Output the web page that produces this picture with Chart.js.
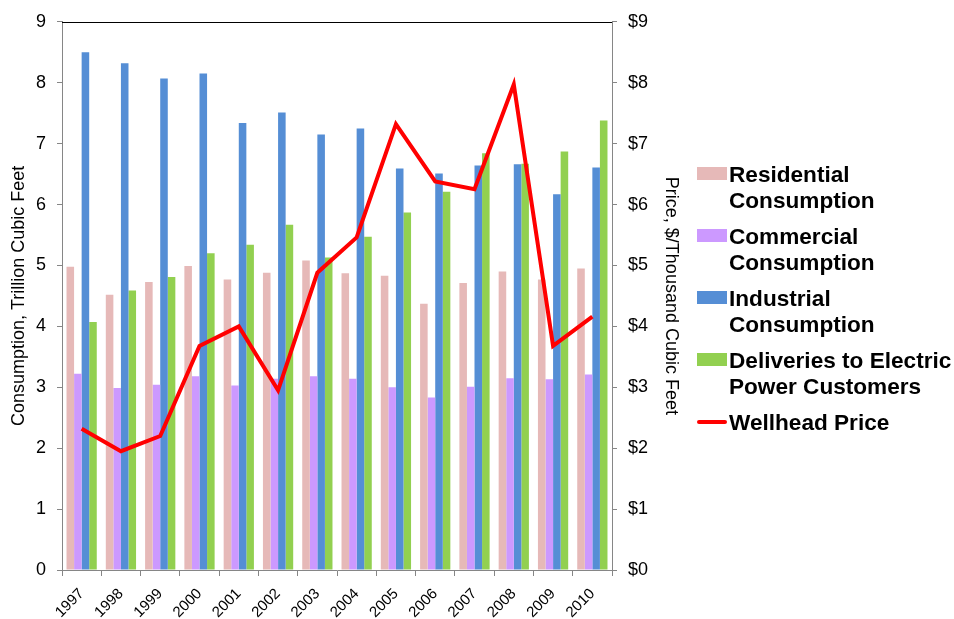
<!DOCTYPE html>
<html>
<head>
<meta charset="utf-8">
<script src="https://cdn.jsdelivr.net/npm/chart.js@4/dist/chart.umd.min.js"></script>
<style>
  html, body { margin: 0; padding: 0; background: #fff; }
  #wrap { position: relative; width: 954px; height: 619px; }
  canvas { position: absolute; left: 0; top: 0; }
  .lg { position: absolute; left: 697px; font-family: "Liberation Sans", Arial, sans-serif; font-weight: bold; font-size: 22.6px; color: #000; }
  .lg .sw { position: absolute; left: 0; width: 30px; }
  .lg .tx { position: absolute; left: 32px; white-space: nowrap; line-height: 26px; }
</style>
</head>
<body>
<div id="wrap">
  <canvas id="c" width="954" height="619"></canvas>
</div>
<script>
const years = ['1997','1998','1999','2000','2001','2002','2003','2004','2005','2006','2007','2008','2009','2010'];
const residential = [4.98, 4.52, 4.73, 4.99, 4.77, 4.88, 5.08, 4.87, 4.83, 4.37, 4.71, 4.90, 4.77, 4.95];
const commercial  = [3.22, 2.99, 3.04, 3.18, 3.03, 3.14, 3.18, 3.14, 3.00, 2.83, 3.01, 3.15, 3.13, 3.21];
const industrial  = [8.50, 8.32, 8.07, 8.15, 7.34, 7.51, 7.15, 7.25, 6.59, 6.51, 6.64, 6.66, 6.17, 6.61];
const electric    = [4.07, 4.59, 4.81, 5.20, 5.34, 5.67, 5.13, 5.47, 5.87, 6.21, 6.84, 6.67, 6.87, 7.38];
const wellhead    = [2.32, 1.95, 2.20, 3.68, 4.00, 2.95, 4.88, 5.46, 7.32, 6.38, 6.25, 7.97, 3.68, 4.16];
const leftTicks   = [0, 1, 2, 3, 4, 5, 6, 7, 8, 9];
const rightTicks  = ['$0','$1','$2','$3','$4','$5','$6','$7','$8','$9'];
const legendLines = [
  ['Residential', 'Consumption'],
  ['Commercial', 'Consumption'],
  ['Industrial', 'Consumption'],
  ['Deliveries to Electric', 'Power Customers'],
  ['Wellhead Price']
];
const leftTitle = 'Consumption, Trillion Cubic Feet';
const rightTitle = 'Price, $/Thousand Cubic Feet';

const colors = ['#E6B9B8', '#CC99FF', '#558ED5', '#92D050', '#FF0000'];
const FONT = '"Liberation Sans", Arial, sans-serif';

const topBorder = {
  id: 'topBorder',
  afterDraw(chart) {
    const a = chart.chartArea, ctx = chart.ctx;
    ctx.save();
    ctx.strokeStyle = '#000';
    ctx.lineWidth = 1;
    ctx.beginPath();
    ctx.moveTo(a.left, Math.round(a.top) + 0.5);
    ctx.lineTo(a.right, Math.round(a.top) + 0.5);
    ctx.stroke();
    ctx.restore();
  }
};

function barSet(label, data, color) {
  return {
    type: 'bar', label, data, backgroundColor: color, borderWidth: 0,
    yAxisID: 'y', order: 1, categoryPercentage: 0.77, barPercentage: 1.0
  };
}

const chart = new Chart(document.getElementById('c'), {
  data: {
    labels: years,
    datasets: [
      {
        type: 'line', label: legendLines[4].join(' '), data: wellhead, yAxisID: 'y2',
        borderColor: colors[4], backgroundColor: colors[4], borderWidth: 4,
        pointRadius: 0, tension: 0, order: 0, borderJoinStyle: 'miter'
      },
      barSet(legendLines[0].join(' '), residential, colors[0]),
      barSet(legendLines[1].join(' '), commercial, colors[1]),
      barSet(legendLines[2].join(' '), industrial, colors[2]),
      barSet(legendLines[3].join(' '), electric, colors[3])
    ]
  },
  options: {
    responsive: false,
    animation: false,
    devicePixelRatio: 1,
    layout: { padding: { left: 0, top: 20, right: 272, bottom: 0 } },
    plugins: { legend: { display: false }, tooltip: { enabled: false } },
    scales: {
      x: {
        offset: true,
        grid: { display: true, offset: true, drawOnChartArea: false, color: '#868686', tickLength: 6 },
        border: { display: true, color: '#868686', width: 1 },
        ticks: { color: '#000', font: { family: FONT, size: 15 }, minRotation: 45, maxRotation: 45, padding: 9 },
        afterFit(s) { s.height = 49; }
      },
      y: {
        position: 'left', min: 0, max: 9,
        afterBuildTicks(s) { s.ticks = leftTicks.map(v => ({ value: v })); },
        grid: { display: true, drawOnChartArea: false, color: '#868686', tickLength: 5 },
        border: { display: true, color: '#868686', width: 1 },
        ticks: { color: '#000', font: { family: FONT, size: 18 }, padding: 11 },
        title: { display: true, text: leftTitle, color: '#000', font: { family: FONT, size: 18 }, padding: { top: 8, bottom: 0 } },
        afterFit(s) { s.width = 62; }
      },
      y2: {
        position: 'right', min: 0, max: 9,
        afterBuildTicks(s) { s.ticks = leftTicks.map(v => ({ value: v })); },
        grid: { display: true, drawOnChartArea: false, color: '#868686', tickLength: 5 },
        border: { display: true, color: '#868686', width: 1 },
        ticks: { color: '#000', font: { family: FONT, size: 18 }, padding: 11, callback: (v, i) => rightTicks[i] },
        title: { display: true, text: rightTitle, color: '#000', font: { family: FONT, size: 18 }, padding: { top: 0, bottom: 0 } },
        afterFit(s) { s.width = 70; }
      }
    }
  },
  plugins: [topBorder]
});

// HTML legend
const wrap = document.getElementById('wrap');
const legendColors = [colors[0], colors[1], colors[2], colors[3], colors[4]];
legendLines.forEach((lines, i) => {
  const cy = 175 + i * 62;
  const item = document.createElement('div');
  item.className = 'lg';
  item.style.top = (cy - 13) + 'px';
  const sw = document.createElement('div');
  sw.className = 'sw';
  const isLine = i === 4;
  sw.style.background = legendColors[i];
  sw.style.height = isLine ? '4px' : '13px';
  sw.style.top = isLine ? '10px' : '5px';
  if (isLine) sw.style.borderRadius = '2px';
  const tx = document.createElement('div');
  tx.className = 'tx';
  tx.innerHTML = lines.join('<br>');
  item.appendChild(sw);
  item.appendChild(tx);
  wrap.appendChild(item);
});
</script>
</body>
</html>
